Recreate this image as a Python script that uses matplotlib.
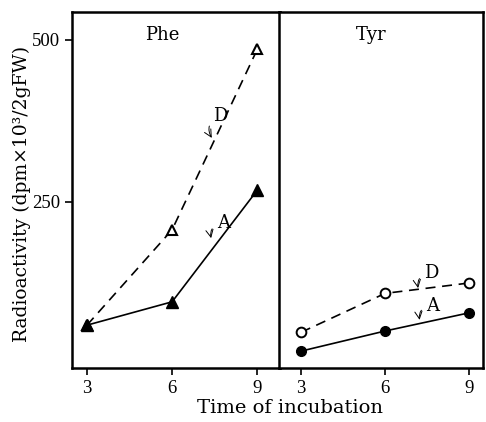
import matplotlib
matplotlib.use("Agg")
import matplotlib.pyplot as plt

plt.rcParams['font.family'] = ['DejaVu Serif']

times = [3, 6, 9]
phe_D = [60, 207, 485]
phe_A = [60, 96, 268]
tyr_D = [49, 109, 125]
tyr_A = [20, 51, 79]
yticks = [250, 500]
xticks = [3, 6, 9]

tickfont = dict(family='Liberation Serif', size=13.5)

fig = plt.figure(figsize=(4.86, 4.22), dpi=100)
ax1 = fig.add_axes([0.148, 0.128, 0.428, 0.844])
ax2 = fig.add_axes([0.574, 0.128, 0.420, 0.844])

ymin, ymax = -6, 543
for ax in (ax1, ax2):
    ax.set_ylim(ymin, ymax)
    for s in ax.spines.values():
        s.set_linewidth(1.8)
    ax.set_xticks(xticks)
    ax.set_xticklabels([str(t) for t in xticks], fontdict=tickfont)
    ax.tick_params(direction='out', length=5, width=1.2)

ax1.set_xlim(2.47, 9.8)
ax2.set_xlim(2.21, 9.5)

ax1.set_yticks(yticks)
ax1.set_yticklabels([str(v) for v in yticks], fontdict=tickfont)
ax2.set_yticks([])

dash = (0, (6, 4))
ax1.plot(times, phe_D, ls=dash, color='black', lw=1.2, marker='^',
         mfc='white', mec='black', mew=1.5, ms=7)
ax1.plot(times, phe_A, ls='-', color='black', lw=1.2, marker='^',
         mfc='black', mec='black', ms=8)

ax2.plot(times, tyr_D, ls=dash, color='black', lw=1.2, marker='o',
         mfc='white', mec='black', mew=1.4, ms=7)
ax2.plot(times, tyr_A, ls='-', color='black', lw=1.2, marker='o',
         mfc='black', mec='black', ms=7)

ax1.text(0.435, 0.935, 'Phe', transform=ax1.transAxes, fontsize=13,
         ha='center', va='center')
ax2.text(0.45, 0.935, 'Tyr', transform=ax2.transAxes, fontsize=13,
         ha='center', va='center')

arrow = dict(arrowstyle='->', color='black', lw=0.7, connectionstyle='arc3,rad=0.6')
ax1.annotate('D', xy=(7.45, 345), xytext=(7.7, 383), fontsize=13,
             ha='center', va='center', arrowprops=arrow)
ax1.annotate('A', xy=(7.4, 190), xytext=(7.8, 217), fontsize=13,
             ha='center', va='center', arrowprops=arrow)
ax2.annotate('D', xy=(7.2, 113), xytext=(7.65, 140), fontsize=13,
             ha='center', va='center', arrowprops=arrow)
ax2.annotate('A', xy=(7.25, 64), xytext=(7.7, 90), fontsize=13,
             ha='center', va='center', arrowprops=arrow)

fig.text(0.046, 0.54, 'Radioactivity (dpm×10³/2gFW)', rotation=90,
         ha='center', va='center', fontsize=13.5)
fig.text(0.597, 0.032, 'Time of incubation', ha='center', va='center', fontsize=14)

fig.savefig('out.png', dpi=100)
